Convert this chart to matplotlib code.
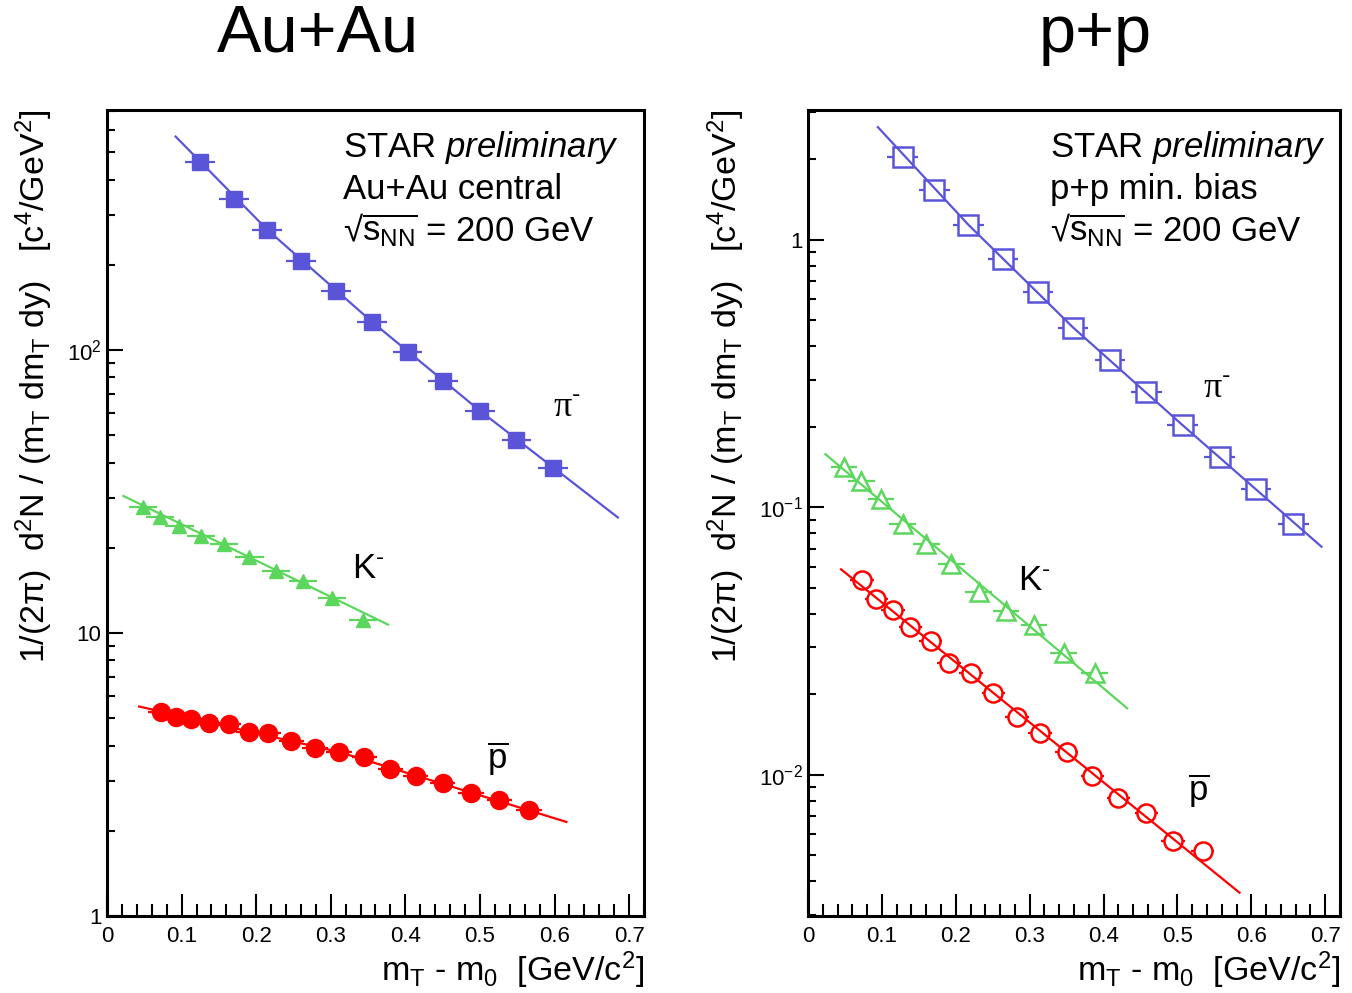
import matplotlib.pyplot as plt
from matplotlib.ticker import MultipleLocator, FixedLocator, FixedFormatter, FuncFormatter, NullFormatter, LogLocator

plt.rcParams['font.family'] = ['Liberation Sans', 'DejaVu Sans']
plt.rcParams['mathtext.fontset'] = 'custom'
plt.rcParams['mathtext.rm'] = 'Liberation Sans'
plt.rcParams['mathtext.it'] = 'Liberation Sans:italic'
plt.rcParams['mathtext.bf'] = 'Liberation Sans:bold'

BLUE = '#5a55d8'
GREEN = '#5cd65c'
RED = '#ff0000'

# ---- Au+Au central ----
auau_pi_x = [0.125, 0.170, 0.215, 0.260, 0.307, 0.355, 0.403, 0.451, 0.500, 0.549, 0.598]
auau_pi_y = [462, 341, 266, 206, 161, 126, 98.6, 77.6, 61.1, 48.1, 38.2]
auau_pi_fit_x = [0.092, 0.215, 0.355, 0.500, 0.685]
auau_pi_fit_y = [568, 266, 126, 61, 25.6]

auau_k_x = [0.048, 0.071, 0.097, 0.126, 0.157, 0.191, 0.227, 0.263, 0.302, 0.343]
auau_k_y = [27.9, 25.8, 23.8, 22.1, 20.6, 18.6, 16.6, 15.3, 13.3, 11.1]
auau_k_fit_x = [0.022, 0.377]
auau_k_fit_y = [30.5, 10.7]

auau_pbar_x = [0.072, 0.092, 0.113, 0.137, 0.163, 0.190, 0.216, 0.247, 0.279, 0.311,
               0.345, 0.380, 0.414, 0.450, 0.488, 0.526, 0.566]
auau_pbar_y = [5.27, 5.04, 4.97, 4.82, 4.76, 4.48, 4.42, 4.14, 3.93, 3.80,
               3.64, 3.31, 3.13, 2.94, 2.71, 2.56, 2.36]
auau_pbar_fit_x = [0.043, 0.311, 0.616]
auau_pbar_fit_y = [5.5, 3.8, 2.15]

# ---- p+p min. bias ----
pp_pi_x = [0.128, 0.171, 0.217, 0.264, 0.311, 0.359, 0.409, 0.458, 0.507, 0.557, 0.606, 0.657]
pp_pi_y = [2.05, 1.54, 1.14, 0.849, 0.637, 0.470, 0.356, 0.271, 0.203, 0.154, 0.117, 0.0867]
pp_pi_fit_x = [0.0946, 0.217, 0.359, 0.507, 0.695]
pp_pi_fit_y = [2.64, 1.14, 0.47, 0.203, 0.0713]

pp_k_x = [0.0486, 0.0724, 0.0988, 0.128, 0.160, 0.194, 0.231, 0.268, 0.306, 0.346, 0.388]
pp_k_y = [0.142, 0.1256, 0.1073, 0.0868, 0.0731, 0.0615, 0.0485, 0.0411, 0.0364, 0.0285, 0.0240]
pp_k_fit_x = [0.0237, 0.432]
pp_k_fit_y = [0.158, 0.01775]

pp_pbar_x = [0.0734, 0.0925, 0.1147, 0.1385, 0.166, 0.191, 0.221, 0.251, 0.283, 0.314,
             0.350, 0.385, 0.420, 0.458, 0.494, 0.534]
pp_pbar_y = [0.0536, 0.0454, 0.0414, 0.0358, 0.0318, 0.0263, 0.0240, 0.0202, 0.0165, 0.0143,
             0.0122, 0.00991, 0.00818, 0.00719, 0.00568, 0.00521]
pp_pbar_fit_x = [0.0448, 0.584]
pp_pbar_fit_y = [0.0587, 0.00363]

xlabel = r'm$_{\mathrm{T}}$ - m$_{\mathrm{0}}$  [GeV/c$^{2}$]'
ylabel = r'1/(2π)  d$^{2}$N / (m$_{\mathrm{T}}$ dm$_{\mathrm{T}}$ dy)   [c$^{4}$/GeV$^{2}$]'
sqrts = r'√$\overline{\mathrm{s}_{\mathrm{NN}}}$ = 200 GeV'

fig = plt.figure(figsize=(13.52, 9.93), dpi=100)
ax1 = fig.add_axes([107/1352, 1-916/993, 537/1352, 806/993])
ax2 = fig.add_axes([808/1352, 1-916/993, 532/1352, 806/993])


def series(ax, x, y, xerr, fx, fy, color, marker, ms, filled):
    ax.errorbar(x, y, xerr=xerr, fmt='none', ecolor=color, elinewidth=1.6, capsize=0, zorder=2)
    if filled:
        ax.plot(x, y, ls='none', marker=marker, ms=ms, color=color, mec=color, zorder=3)
    else:
        ax.plot(x, y, ls='none', marker=marker, ms=ms, mfc='white', mec=color, mew=1.8, zorder=3)
    ax.plot(fx, fy, color=color, lw=1.6, zorder=4)


def style(ax, ylim, yticks, ylabs):
    ax.set_yscale('log')
    ax.set_xlim(0, 0.72)
    ax.set_ylim(*ylim)
    ax.xaxis.set_major_locator(MultipleLocator(0.1))
    ax.xaxis.set_minor_locator(MultipleLocator(0.02))
    ax.xaxis.set_major_formatter(FuncFormatter(lambda v, p: '0' if abs(v) < 1e-9 else f'{v:.1f}'))
    ax.yaxis.set_major_locator(FixedLocator(yticks))
    ax.yaxis.set_major_formatter(FixedFormatter(ylabs))
    ax.yaxis.set_minor_locator(LogLocator(base=10, subs=range(2, 10)))
    ax.yaxis.set_minor_formatter(NullFormatter())
    ax.tick_params(axis='x', which='major', direction='in', length=16, width=1.5,
                   labelsize=16, pad=7, top=False)
    ax.tick_params(axis='x', which='minor', direction='in', length=8.5, width=1.5, top=False)
    ax.tick_params(axis='y', which='major', direction='in', length=11.5, width=1.5,
                   labelsize=16, pad=4, right=False)
    ax.tick_params(axis='y', which='minor', direction='in', length=6, width=1.5, right=False)
    for s in ax.spines.values():
        s.set_linewidth(2.2)
    ax.set_xlabel(xlabel, fontsize=24.5, loc='right', labelpad=2)
    ax.set_ylabel(ylabel, fontsize=24.5, loc='top', labelpad=8)


series(ax1, auau_pi_x, auau_pi_y, 0.02, auau_pi_fit_x, auau_pi_fit_y, BLUE, 's', 11, True)
series(ax1, auau_k_x, auau_k_y, 0.019, auau_k_fit_x, auau_k_fit_y, GREEN, '^', 10, True)
series(ax1, auau_pbar_x, auau_pbar_y, 0.017, auau_pbar_fit_x, auau_pbar_fit_y, RED, 'o', 13, True)
style(ax1, (1, 705), [1, 10, 100], ['1', '10', r'$10^{2}$'])

series(ax2, pp_pi_x, pp_pi_y, 0.0206, pp_pi_fit_x, pp_pi_fit_y, BLUE, 's', 14, False)
series(ax2, pp_k_x, pp_k_y, 0.018, pp_k_fit_x, pp_k_fit_y, GREEN, '^', 13, False)
series(ax2, pp_pbar_x, pp_pbar_y, 0.016, pp_pbar_fit_x, pp_pbar_fit_y, RED, 'o', 13, False)
style(ax2, (0.00297, 3.06), [0.01, 0.1, 1], [r'$10^{-2}$', r'$10^{-1}$', '1'])

# info text
for ax, x0, sys_text in [(ax1, 0.4395, 'Au+Au central'), (ax2, 0.4549, 'p+p min. bias')]:
    ax.text(x0, 0.9417, r'STAR $\it{preliminary}$', transform=ax.transAxes, fontsize=25, va='baseline')
    ax.text(x0, 0.8896, sys_text, transform=ax.transAxes, fontsize=25, va='baseline')
    ax.text(x0, 0.8375, sqrts, transform=ax.transAxes, fontsize=25, va='baseline')

# particle labels
pi_lab = r'π$^{\text{-}}$'
k_lab = r'K$^{\text{-}}$'
p_lab = r'$\overline{\mathrm{p}}$'
ax1.text(0.8305, 0.619, pi_lab, transform=ax1.transAxes, fontsize=26, va='baseline',
         family=['Liberation Serif', 'DejaVu Serif'])
ax1.text(0.4562, 0.4194, k_lab, transform=ax1.transAxes, fontsize=25, va='baseline')
ax1.text(0.7076, 0.1836, p_lab, transform=ax1.transAxes, fontsize=25, va='baseline')
ax2.text(0.7425, 0.6427, pi_lab, transform=ax2.transAxes, fontsize=26, va='baseline',
         family=['Liberation Serif', 'DejaVu Serif'])
ax2.text(0.3947, 0.4045, k_lab, transform=ax2.transAxes, fontsize=25, va='baseline')
ax2.text(0.7143, 0.1439, p_lab, transform=ax2.transAxes, fontsize=25, va='baseline')

fig.text(318/1352, 1-35/993, 'Au+Au', ha='center', va='center', fontsize=48)
fig.text(1095/1352, 1-35/993, 'p+p', ha='center', va='center', fontsize=48)

fig.savefig('out.png', dpi=100)
